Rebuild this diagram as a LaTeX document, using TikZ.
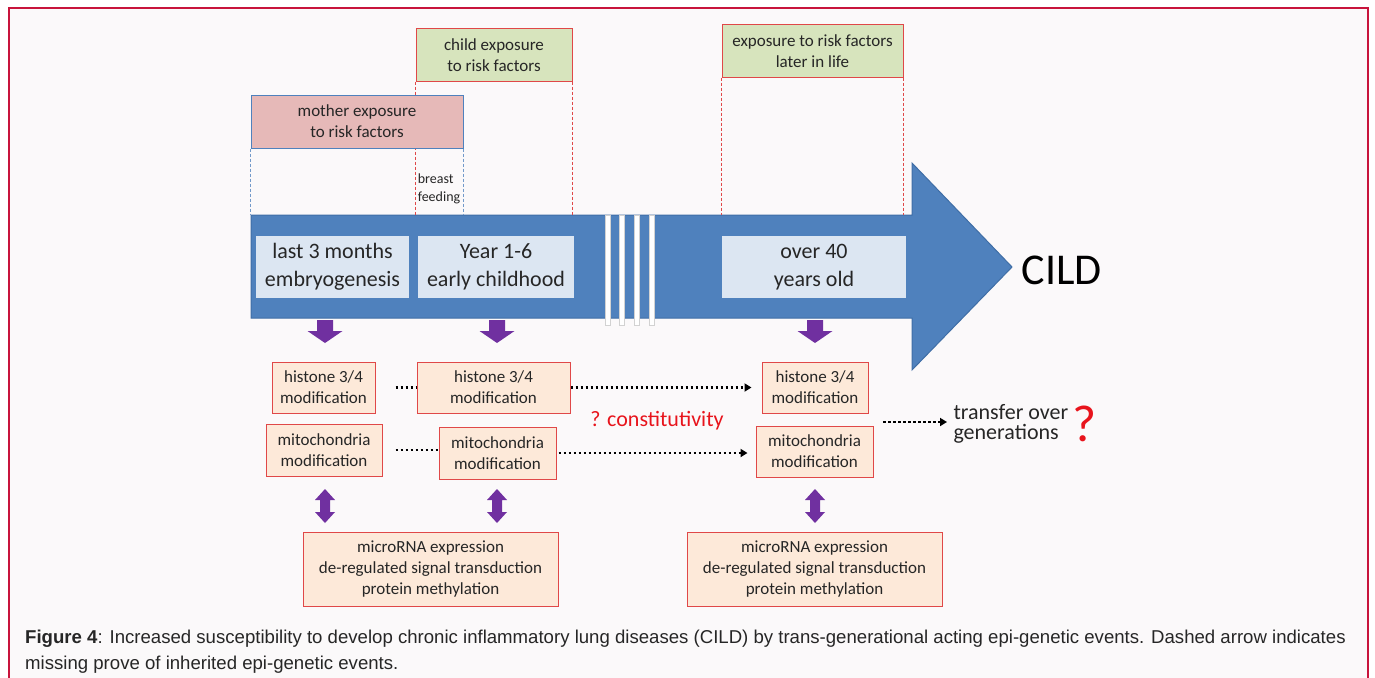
\documentclass[tikz,border=0pt]{standalone}
\usepackage{fontspec}
\setmainfont{Carlito}
\newfontfamily\capfont{Liberation Sans}
\usetikzlibrary{arrows.meta}

\definecolor{framered}{HTML}{C8143C}
\definecolor{pagebg}{HTML}{FBF9FA}
\definecolor{barblue}{HTML}{4F81BD}
\definecolor{baredge}{HTML}{3F6EA6}
\definecolor{stagefill}{HTML}{DCE6F2}
\definecolor{motherfill}{HTML}{E6B9B8}
\definecolor{childfill}{HTML}{D7E4BD}
\definecolor{epifill}{HTML}{FDE9D9}
\definecolor{epiedge}{HTML}{E04848}
\definecolor{epipurple}{HTML}{7030A0}
\definecolor{qred}{HTML}{E8141C}
\definecolor{txtgray}{HTML}{262626}

\begin{document}
\begin{tikzpicture}[x=1pt, y=-1pt,
  stagebox/.style={fill=stagefill, inner sep=0pt, align=center, text=txtgray,
    font=\fontsize{22}{28}\selectfont},
  expobox/.style={draw=epiedge, line width=1pt, inner sep=0pt, align=center, text=txtgray,
    font=\fontsize{17}{21}\selectfont},
  epibox/.style={draw=epiedge, fill=epifill, line width=1pt, inner sep=0pt, align=center,
    text=txtgray, font=\fontsize{17}{21}\selectfont},
  reddash/.style={draw=epiedge, line width=1pt, dash pattern=on 3pt off 2pt},
  bluedash/.style={draw=barblue!80, line width=1pt, dash pattern=on 3pt off 2pt},
  dotlink/.style={line width=2.5pt, dash pattern=on 2.5pt off 2.5pt},
  dotarrow/.style={dotlink, -{Triangle[length=7pt, width=8pt]}}]
  \useasboundingbox (0,0) rectangle (1375,677);
  \clip (0,0) rectangle (1375,677);

  % ---- page frame ----
  \fill[white] (0,0) rectangle (1375,677);
  \draw[framered, fill=pagebg, line width=1.5pt] (9,8) rectangle (1368,700);

  % ---- time arrow ----
  \draw[baredge, fill=barblue, line width=1pt]
    (251,215) -- (912,215) -- (912,163) -- (1012,267) -- (912,370) -- (912,318) -- (251,318) -- cycle;
  \coordinate (bartop) at (0,215);
  % ---- gap in time ----
  \foreach \x in {605, 619, 634, 649} {
    \draw[gray!35, fill=white, line width=0.6pt] (\x,215) rectangle (\x+5,325);
  }
  \node[font=\fontsize{44}{44}\selectfont] (cild) at (1062,270) {CILD};

  % ---- stages ----
  \node[stagebox, minimum width=153pt, minimum height=62pt] (embryo) at (332.5,267)
    {last 3 months\\embryogenesis};
  \node[stagebox, minimum width=156pt, minimum height=62pt] (child) at (496,267)
    {Year 1-6\\early childhood};
  \node[stagebox, minimum width=184pt, minimum height=62pt] (adult) at (814,267)
    {over 40\\years old};

  % ---- exposures ----
  \node[expobox, fill=childfill, minimum width=156pt, minimum height=52pt]
    (childexp) at (494,55) {child exposure\\to risk factors};
  \node[expobox, fill=childfill, minimum width=181pt, minimum height=52pt]
    (laterexp) at (812.5,51) {exposure to risk factors\\later in life};
  \foreach \n in {childexp, laterexp} {
    \draw[reddash] (\n.south west) -- (\n.south west |- bartop);
    \draw[reddash] (\n.south east) -- (\n.south east |- bartop);
  }
  \node[expobox, draw=barblue, fill=motherfill, minimum width=212pt, minimum height=53pt]
    (mother) at (357,121.5) {mother exposure\\to risk factors};
  \draw[bluedash] (mother.south west) -- (mother.south west |- bartop);
  \draw[bluedash] (mother.south east) -- (mother.south east |- bartop);
  \node[align=left, text=txtgray, font=\fontsize{14}{18}\selectfont] (breast) at (439,189)
    {breast\\feeding};

  % ---- stage to epigenetics ----
  \foreach \x in {325, 497, 815} {
    \fill[epipurple] (\x-8,320) -- (\x+8,320) -- (\x+8,331) -- (\x+17.5,331) -- (\x,343)
      -- (\x-17.5,331) -- (\x-8,331) -- cycle;
  }

  % ---- epigenetic events ----
  \node[epibox, minimum width=103pt, minimum height=51pt] (hist1) at (323.5,387.5)
    {histone 3/4\\modification};
  \node[epibox, minimum width=116pt, minimum height=52pt] (mito1) at (324,450)
    {mitochondria\\modification};
  \node[epibox, minimum width=153pt, minimum height=51pt] (hist2) at (493.5,387.5)
    {histone 3/4\\modification};
  \node[epibox, minimum width=117pt, minimum height=52pt] (mito2) at (497.5,453)
    {mitochondria\\modification};
  \node[epibox, minimum width=106pt, minimum height=51pt] (hist3) at (815,387.5)
    {histone 3/4\\modification};
  \node[epibox, minimum width=117pt, minimum height=51pt] (mito3) at (814.5,451.5)
    {mitochondria\\modification};
  \node[epibox, minimum width=255pt, minimum height=74pt] (mirna1) at (430.5,569)
    {microRNA expression\\de-regulated signal transduction\\protein methylation};
  \node[epibox, minimum width=255pt, minimum height=74pt] (mirna2) at (814.5,569)
    {microRNA expression\\de-regulated signal transduction\\protein methylation};

  % ---- dotted links ----
  \draw[dotlink, shorten <=20pt] (hist1.east) -- (hist2.west);
  \draw[dotlink, shorten <=13pt] (mito1.east) -- (mito1.east -| mito2.west);
  \draw[dotarrow, shorten >=10pt] (hist2.east) -- (hist3.west);
  \draw[dotarrow, shorten <=2pt, shorten >=8pt] (mito2.east) -- (mito2.east -| mito3.west);
  \node[text=qred, font=\fontsize{22}{22}\selectfont] (const) at (657,421) {? constitutivity};

  % ---- transfer over generations ----
  \node[anchor=west, align=left, text=txtgray, font=\fontsize{22}{20}\selectfont]
    (transfer) at (950,424) {transfer over\\generations};
  \coordinate (genstart) at (883,422);
  \draw[dotarrow, shorten >=3pt] (genstart) -- (genstart -| transfer.west);
  \node[text=qred, font=\fontsize{52}{52}\selectfont] (qmark) at (1085,424) {?};

  % ---- double arrows ----
  \foreach \x in {325, 497, 815} {
    \fill[epipurple] (\x,489) -- (\x+10,500) -- (\x+5,500) -- (\x+5,512) -- (\x+10,512)
      -- (\x,523) -- (\x-10,512) -- (\x-5,512) -- (\x-5,500) -- (\x-10,500) -- cycle;
  }

  % ---- caption ----
  \node[anchor=north west, align=left, text=txtgray, inner sep=0pt,
    font=\capfont\fontsize{18.6}{26}\selectfont] (caption) at (25,630)
    {\textbf{Figure 4}: Increased susceptibility to develop chronic inflammatory lung diseases (CILD) by trans-generational acting epi-genetic events. Dashed arrow indicates\\
     missing prove of inherited epi-genetic events.};
\end{tikzpicture}
\end{document}
